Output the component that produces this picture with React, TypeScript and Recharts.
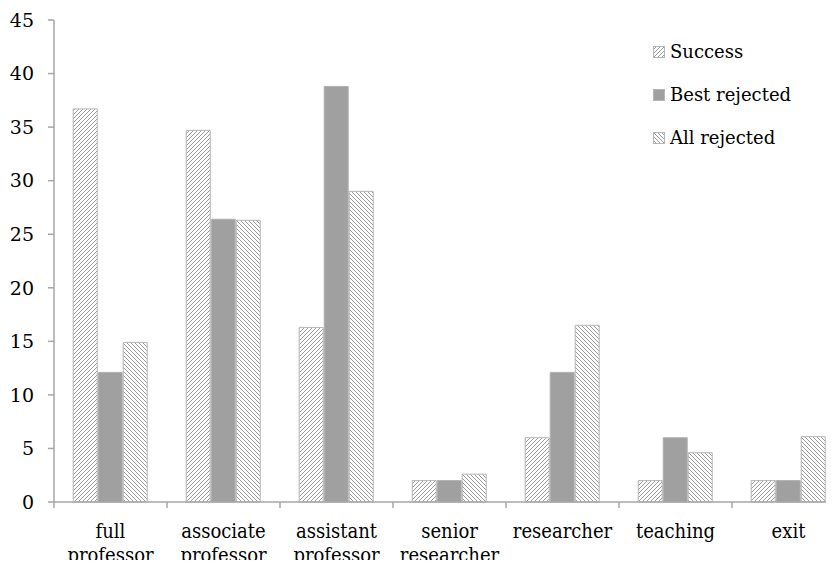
import React from "react";
import { BarChart, Bar, XAxis, YAxis } from "recharts";

const categories = [
  "full professor",
  "associate professor",
  "assistant professor",
  "senior researcher",
  "researcher",
  "teaching",
  "exit",
];
const success = [36.7, 34.7, 16.3, 2.0, 6.0, 2.0, 2.0];
const bestRejected = [12.1, 26.4, 38.8, 2.0, 12.1, 6.0, 2.0];
const allRejected = [14.9, 26.3, 29.0, 2.6, 16.5, 4.6, 6.1];
const yTicks = [0, 5, 10, 15, 20, 25, 30, 35, 40, 45];

const data = categories.map((name, i) => ({
  name,
  success: success[i],
  best: bestRejected[i],
  all: allRejected[i],
}));

const FONT = "'DejaVu Serif', serif";
const FONT_NARROW = "'DejaVu Serif Condensed', 'DejaVu Serif', serif";
const AXIS = "#a6a6a6";
const BAND = 113;

const legendItems = [
  { label: "Success", fill: "url(#hatchUp)" },
  { label: "Best rejected", fill: "#a0a0a0" },
  { label: "All rejected", fill: "url(#hatchDown)" },
];

const CategoryTick = ({ x, y, payload }: any) => {
  const words = String(payload.value).split(" ");
  return (
    <g>
      <line x1={x - BAND / 2} y1={y - 8} x2={x - BAND / 2} y2={y - 2} stroke={AXIS} strokeWidth={1.5} />
      <text x={x} y={y} textAnchor="middle" fontFamily={FONT_NARROW} fontSize={20} fill="#000">
        {words.map((w, i) => (
          <tspan key={i} x={x} dy={i === 0 ? 28 : 24}>
            {w}
          </tspan>
        ))}
      </text>
    </g>
  );
};

const LegendBox = () => (
  <div
    style={{
      position: "absolute",
      left: 653,
      top: 30,
      fontFamily: FONT,
      fontSize: 18,
      color: "#000",
    }}
  >
    {legendItems.map((item) => (
      <div key={item.label} style={{ display: "flex", alignItems: "center", height: 43 }}>
        <svg width={12} height={12} style={{ marginRight: 5 }}>
          <rect x={0.5} y={0.5} width={11} height={11} fill={item.fill} stroke="#b5b5b5" />
        </svg>
        <span>{item.label}</span>
      </div>
    ))}
  </div>
);

export default function App() {
  return (
    <div
      style={{
        position: "relative",
        margin: -8,
        width: 834,
        height: 568,
        overflow: "hidden",
        background: "#fff",
      }}
    >
      <svg width={0} height={0} style={{ position: "absolute" }}>
        <defs>
          <pattern id="hatchUp" patternUnits="userSpaceOnUse" width={4} height={4}>
            <rect width={4} height={4} fill="#fff" />
            <path d="M-1,1 l2,-2 M0,4 l4,-4 M3,5 l2,-2" stroke="#9a9a9a" strokeWidth={1} />
          </pattern>
          <pattern id="hatchDown" patternUnits="userSpaceOnUse" width={4} height={4}>
            <rect width={4} height={4} fill="#fff" />
            <path d="M-1,3 l2,2 M0,0 l4,4 M3,-1 l2,2" stroke="#9a9a9a" strokeWidth={1} />
          </pattern>
        </defs>
      </svg>
      <BarChart
        width={860}
        height={568}
        data={data}
        margin={{ top: 20, right: 15, left: 0, bottom: 0 }}
        barCategoryGap="17%"
        barGap={1}
      >
        <XAxis
          dataKey="name"
          interval={0}
          height={66}
          tickLine={false}
          tick={<CategoryTick />}
          axisLine={{ stroke: AXIS, strokeWidth: 1.5 }}
        />
        <YAxis
          width={54}
          domain={[0, 45]}
          ticks={yTicks}
          interval={0}
          tickSize={6}
          tickMargin={14}
          tickLine={{ stroke: AXIS, strokeWidth: 1.5 }}
          axisLine={{ stroke: AXIS, strokeWidth: 1.5 }}
          tick={{ fill: "#000", fontFamily: FONT, fontSize: 19 }}
        />
        <Bar dataKey="success" name="Success" fill="url(#hatchUp)" stroke="#b5b5b5" isAnimationActive={false} />
        <Bar dataKey="best" name="Best rejected" fill="#a0a0a0" stroke="#b0b0b0" isAnimationActive={false} />
        <Bar dataKey="all" name="All rejected" fill="url(#hatchDown)" stroke="#b5b5b5" isAnimationActive={false} />
      </BarChart>
      <LegendBox />
    </div>
  );
}
